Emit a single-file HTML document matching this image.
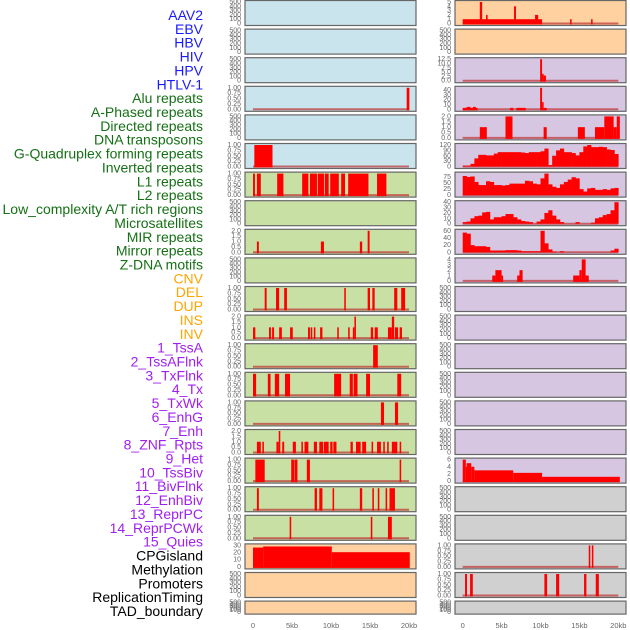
<!DOCTYPE html>
<html><head><meta charset="utf-8"><style>
html,body{margin:0;padding:0;background:#fff;width:630px;height:630px;overflow:hidden}
svg{display:block}
</style></head><body>
<svg id="chart" width="630" height="630" xmlns="http://www.w3.org/2000/svg" font-family="Liberation Sans, sans-serif"></svg>
<script>
// ---- labels ----
const trackLabels = ["AAV2","EBV","HBV","HIV","HPV","HTLV-1","Alu repeats","A-Phased repeats","Directed repeats","DNA transposons","G-Quadruplex forming repeats","Inverted repeats","L1 repeats","L2 repeats","Low_complexity A/T rich regions","Microsatellites","MIR repeats","Mirror repeats","Z-DNA motifs","CNV","DEL","DUP","INS","INV","1_TssA","2_TssAFlnk","3_TxFlnk","4_Tx","5_TxWk","6_EnhG","7_Enh","8_ZNF_Rpts","9_Het","10_TssBiv","11_BivFlnk","12_EnhBiv","13_ReprPC","14_ReprPCWk","15_Quies","CPGisland","Methylation","Promoters","ReplicationTiming","TAD_boundary"];
const labelGroups = [6,13,5,15,5];
const xTickValues = [0,5,10,15,20];
const xTickLabels = ["0","5kb","10kb","15kb","20kb"];

// ---- left column data (kb start, kb end, value) ----
const L3 = [[19.7,20.05,1]];
const L5 = [[0.17,2.5,1]];
const L6 = [[0,0.25,1],[0.5,1.0,1],[3.1,3.9,1],[6.3,7.1,1],[7.3,8.2,1],[8.3,9.1,1],[9.2,9.7,1],[9.9,11.0,1],[11.3,11.8,1],[12.2,14.8,1],[15.9,17.1,1]];
const L8 = [[0.5,0.75,1],[8.7,9.1,1],[13.7,14.0,1],[14.7,14.95,2]];
const L10 = [[1.5,1.75,1],[2.95,3.35,1],[4.0,4.35,1],[11.7,11.9,1],[14.7,15.0,1],[15.3,15.6,1],[18.1,18.5,1],[19.0,19.5,1]];
const L11 = [[0,0.3,1],[2.05,2.3,1],[2.45,2.7,1],[3.35,3.7,1],[4.75,5.1,1],[7.05,7.3,1],[7.4,7.6,1],[7.8,8.0,1],[8.6,8.9,1],[10.8,11.0,1],[12.2,12.4,1],[12.8,13.0,1],[13.0,13.2,2],[15.1,15.4,1],[15.6,16.0,1],[17.3,17.8,1],[17.8,18.1,2],[18.2,18.6,1],[18.8,19.1,1]];
const L12 = [[15.4,16.0,1]];
const L13 = [[0,0.4,1],[1.9,2.25,1],[2.8,3.35,1],[4.1,4.75,1],[10.4,11.3,1],[12.4,12.8,1],[12.9,13.4,1],[14.5,15.0,1],[18.5,19.0,1]];
const L14 = [[16.4,16.8,1],[18.2,18.6,1]];
const L15 = [[0.5,1.0,1],[1.2,1.4,1],[3.0,3.3,1],[3.3,3.5,2],[3.75,4.0,1],[5.1,5.5,1],[6.2,6.4,1],[6.6,7.1,1],[7.8,8.2,1],[8.5,9.0,1],[9.1,9.7,1],[9.9,10.2,1],[10.3,10.7,1],[12.5,12.8,1],[13.2,13.8,1],[14.0,14.5,1],[15.2,15.4,1],[15.9,16.4,1],[16.7,16.9,1],[17.2,17.4,1],[17.8,18.5,1],[18.8,19.0,1]];
const L16 = [[0.3,1.5,1],[4.9,5.3,1],[5.35,5.7,1],[6.9,7.3,1],[18.8,19.0,1]];
const L17 = [[0.5,0.75,1],[7.9,8.2,1],[8.5,8.9,1],[10.2,10.4,1],[13.7,14.0,1],[15.3,15.5,1],[16.0,16.2,1],[17.0,17.2,1],[17.5,18.2,1]];
const L18 = [[4.7,4.9,1],[15.1,15.3,1],[17.3,17.8,1]];
const L19 = [[0,1.3,27],[1.3,10.1,28.5],[10.1,20.1,20.5]];

// ---- right column data ----
const R0 = [[0,10.2,1],[2.2,2.5,5],[3.0,3.2,2],[6.6,6.85,4],[9.3,9.7,2],[13.8,14.0,1],[16.5,16.7,1]];
const R2 = [[9.95,10.2,12.5],[10.2,10.4,4],[10.4,10.7,3]];
const R3 = [[0,0.5,3],[0.5,1.0,5],[1.0,1.3,3],[1.3,1.7,5],[1.7,1.9,3],[6.1,6.5,3],[6.9,8.1,3],[9.95,10.2,45],[10.2,10.4,15],[10.4,10.8,3]];
const R4 = [[2.2,3.1,1],[5.5,6.4,2],[10.4,10.8,1],[14.8,15.7,1],[17.0,18.2,1],[18.2,19.4,2],[19.4,19.8,1],[19.8,20.2,2]];
const R5bins = [5,5,15,45,65,65,62,62,72,80,80,80,80,80,80,78,75,80,80,80,85,100,8,60,90,100,80,80,75,62,80,112,120,108,108,110,108,95,92,70];
const R6bins = [80,76,78,55,42,42,58,55,42,42,40,42,48,48,48,48,60,58,48,45,70,90,45,35,30,45,55,65,75,70,25,15,28,30,22,22,25,22,28,30];
const R7bins = [3,4,10,14,15,21,22,8,12,12,14,18,18,12,8,5,4,3,0,4,8,20,25,15,8,3,0,0,0,3,0,0,0,2,10,12,16,18,25,40];
const R8bins = [55,52,20,17,17,17,15,5,5,5,5,6,6,6,5,3,3,3,3,3,60,25,8,2,0,3,0,0,0,0,0,0,0,0,0,0,0,0,5,10];
const R9 = [[3.8,4.2,1],[4.2,5.0,2],[5.0,5.1,1],[7.0,7.3,1],[7.3,7.7,2],[14.2,15.0,1],[15.0,15.3,2],[15.3,15.8,4],[15.8,16.2,1]];
const R16 = [[0,0.4,6],[0.4,0.5,4],[0.5,1.1,5],[1.1,1.5,4],[1.5,6.5,3],[6.5,10.2,2.3],[10.2,20.2,1.2]];
const R19 = [[16.2,16.4,1],[16.6,16.8,1]];
const R20 = [[0.3,0.55,1],[0.95,1.3,1],[10.5,10.85,1],[12.0,12.4,1],[15.6,15.9,1],[17.1,17.5,1]];

const T1 = [0,0.25,0.5,0.75,1], T2 = [0,0.5,1,1.5,2], TE = [0,100,200,300,400,500];
const BLUE="#c9e4ec", GREEN="#c8e0a4", ORANGE="#ffd0a0", PURPLE="#d6c6e2", GRAY="#d0d0d0";

const leftRows = [
 [BLUE,null,TE],[BLUE,null,TE],[BLUE,null,TE],[BLUE,L3,T1],[BLUE,null,TE],[BLUE,L5,T1],
 [GREEN,L6,T1],[GREEN,null,TE],[GREEN,L8,T2],[GREEN,null,TE],[GREEN,L10,T1],[GREEN,L11,T2],
 [GREEN,L12,T1],[GREEN,L13,T1],[GREEN,L14,T1],[GREEN,L15,T2],[GREEN,L16,T1],[GREEN,L17,T1],[GREEN,L18,T1],
 [ORANGE,L19,[0,10,20,30]],[ORANGE,null,TE],[ORANGE,null,TE]];
const rightRows = [
 [ORANGE,R0,[0,1,2,3,4,5]],[ORANGE,null,TE],[PURPLE,R2,[0,2.5,5,7.5,10,12.5]],[PURPLE,R3,[0,10,20,30,40]],
 [PURPLE,R4,T2],[PURPLE,R5bins,[0,30,60,90,120]],[PURPLE,R6bins,[0,25,50,75]],[PURPLE,R7bins,[0,10,20,30,40]],
 [PURPLE,R8bins,[0,20,40,60]],[PURPLE,R9,[0,1,2,3,4]],[PURPLE,null,TE],[PURPLE,null,TE],[PURPLE,null,TE],
 [PURPLE,null,TE],[PURPLE,null,TE],[PURPLE,null,TE],[PURPLE,R16,[0,2,4,6]],[GRAY,null,TE],[GRAY,null,TE],
 [GRAY,R19,T1],[GRAY,R20,T1],[GRAY,null,TE]];

const NS="http://www.w3.org/2000/svg";
const svg=document.getElementById('chart');
function mk(tag,attrs,parent){const e=document.createElementNS(NS,tag);for(const k in attrs)e.setAttribute(k,attrs[k]);(parent||svg).appendChild(e);return e;}

// labels
const groupColors=["#1a1aff","#157015","#ffa500","#a020f0","#000000"];
let gi=0,cnt=0;
trackLabels.forEach((t,i)=>{
  while(cnt>=labelGroups[gi]){gi++;cnt=0;}
  cnt++;
  const e=mk('text',{x:203,y:15+i*13.86+5,'text-anchor':'end','font-size':'14',fill:groupColors[gi]});
  e.textContent=t;
  
  
});

function fmt(v,ticks){const m=ticks[ticks.length-1];if(m===1)return v.toFixed(2);if(m===2||m===12.5)return v.toFixed(1);return String(v);}

function drawCol(rows,px0,px1,x0,x20,name){
  const xs=kb=>x0+(x20-x0)*kb/20;
  rows.forEach((r,i)=>{
    const [bg,data,ticks]=r;
    const top=i*28.6, h=(i===rows.length-1)?13:25;
    const g=mk('g',{});
    
    
    mk('rect',{x:px0,y:top+0.5,width:px1-px0,height:h,fill:bg,stroke:'#666','stroke-width':1.2},g);
    let vmax=ticks[ticks.length-1];
    let isBins=data&&typeof data[0]==='number';
    if(data){data.forEach(d=>{const v=isBins?d:d[2];if(v>vmax)vmax=v;});}
    const yb=top+h-1.5, yt=top+2;
    const ys=v=>yb-(yb-yt)*v/vmax;
    ticks.forEach(tv=>{
      const e=mk('text',{x:px0-4,y:ys(tv)+2,'text-anchor':'end','font-size':'7',fill:'#666'},g);
      e.textContent=fmt(tv,ticks);
      
      
    });
    if(!data)return;
    mk('line',{x1:xs(0),x2:xs(20),y1:yb,y2:yb,stroke:'rgba(190,50,50,0.7)','stroke-width':2},g);
    if(isBins){
      data.forEach((v,j)=>{
        if(v<=0)return;
        const b=mk('rect',{x:xs(j*0.5),y:ys(v),width:xs(0.5)-xs(0)+0.3,height:yb-ys(v),fill:'#ff0000'},g);
        
        
      });
    } else {
      data.forEach(d=>{
        const b=mk('rect',{x:xs(d[0]),y:ys(d[2]),width:Math.max(1.5,xs(d[1])-xs(d[0])),height:yb-ys(d[2])+1,fill:'#ff0000'},g);
        
        
      });
    }
  });
  xTickValues.forEach((v,k)=>{
    const e=mk('text',{x:xs(v),y:628,'text-anchor':'middle','font-size':'7.5',fill:'#666'});
    e.textContent=xTickLabels[k];
    
    
  });
}
drawCol(leftRows,245,416,253,409,'left');
drawCol(rightRows,455,626,462.7,618.3,'right');
</script>
</body></html>
